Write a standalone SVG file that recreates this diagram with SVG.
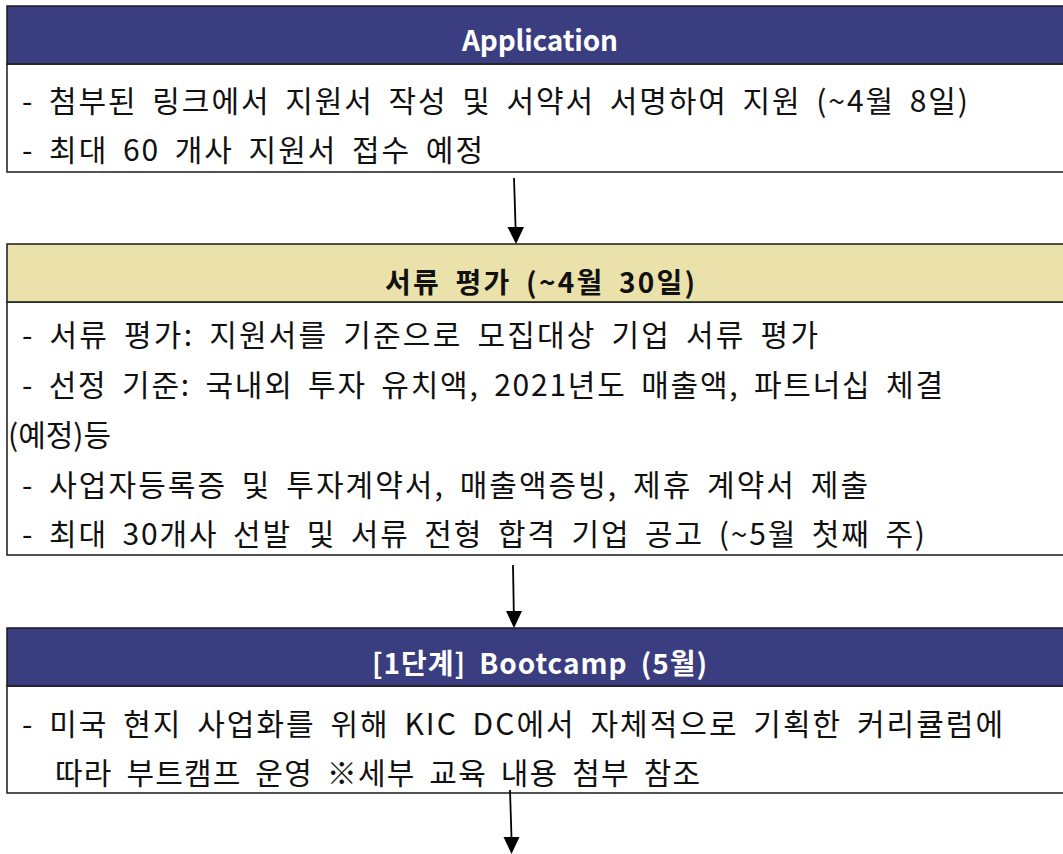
<svg xmlns="http://www.w3.org/2000/svg" width="1063" height="854" viewBox="0 0 1063 854">
<style>
.hdrB{fill:#3b3d81;stroke:#1a1a1a;stroke-width:1.5}
.hdrY{fill:#ebe2ab;stroke:#1a1a1a;stroke-width:1.5}
.body{fill:#ffffff;stroke:#1a1a1a;stroke-width:1.5}
.t{font-family:"Noto Sans CJK KR","Noto Sans",sans-serif;font-size:30px;word-spacing:6px;fill:#111111;dominant-baseline:central}
.hw{font-family:"Noto Sans CJK KR","Noto Sans",sans-serif;font-size:28px;word-spacing:6px;font-weight:bold;fill:#ffffff;dominant-baseline:central}
.hk{font-family:"Noto Sans CJK KR","Noto Sans",sans-serif;font-size:28px;word-spacing:6px;font-weight:bold;fill:#111111;dominant-baseline:central}
.conn{stroke:#000;stroke-width:1.8;fill:none}
</style>
<g id="node-application">
<rect class="body" x="7" y="64" width="1070" height="108"/>
<rect class="hdrB" x="7" y="6" width="1070" height="58"/>
<text class="hw" x="462" y="39" textLength="156" lengthAdjust="spacing">Application</text>
<text class="t" x="22" y="99" textLength="946" lengthAdjust="spacing">- 첨부된 링크에서 지원서 작성 및 서약서 서명하여 지원 (~4월 8일)</text>
<text class="t" x="22" y="148" textLength="461" lengthAdjust="spacing">- 최대 60 개사 지원서 접수 예정</text>
</g>
<g id="node-screening">
<rect class="body" x="7" y="302" width="1070" height="253"/>
<rect class="hdrY" x="7" y="244" width="1070" height="58"/>
<text class="hk" x="385" y="281" textLength="310" lengthAdjust="spacing">서류 평가 (~4월 30일)</text>
<text class="t" x="22" y="333" textLength="796" lengthAdjust="spacing">- 서류 평가: 지원서를 기준으로 모집대상 기업 서류 평가</text>
<text class="t" x="22" y="383" textLength="921" lengthAdjust="spacing">- 선정 기준: 국내외 투자 유치액, 2021년도 매출액, 파트너십 체결</text>
<text class="t" x="8" y="433">(예정)등</text>
<text class="t" x="22" y="483" textLength="846" lengthAdjust="spacing">- 사업자등록증 및 투자계약서, 매출액증빙, 제휴 계약서 제출</text>
<text class="t" x="22" y="532" textLength="903" lengthAdjust="spacing">- 최대 30개사 선발 및 서류 전형 합격 기업 공고 (~5월 첫째 주)</text>
</g>
<g id="node-bootcamp">
<rect class="body" x="7" y="686" width="1070" height="107"/>
<rect class="hdrB" x="7" y="628" width="1070" height="58"/>
<text class="hw" x="372" y="662" textLength="335" lengthAdjust="spacing">[1단계] Bootcamp (5월)</text>
<text class="t" x="22" y="722" textLength="981" lengthAdjust="spacing">- 미국 현지 사업화를 위해 KIC DC에서 자체적으로 기획한 커리큘럼에</text>
<text class="t" x="55" y="771" textLength="645" lengthAdjust="spacing">따라 부트캠프 운영 ※세부 교육 내용 첨부 참조</text>
</g>
<g id="connectors">
<line class="conn" x1="514" y1="178" x2="515.6" y2="228"/>
<polygon points="507.5,227 524,227 516,244" fill="#000"/>
<line class="conn" x1="513" y1="565" x2="513.8" y2="612"/>
<polygon points="506,611 522,611 514,628" fill="#000"/>
<line class="conn" x1="510" y1="790" x2="511.5" y2="838"/>
<polygon points="503.5,837 519.5,837 511.5,854" fill="#000"/>
</g>
</svg>
